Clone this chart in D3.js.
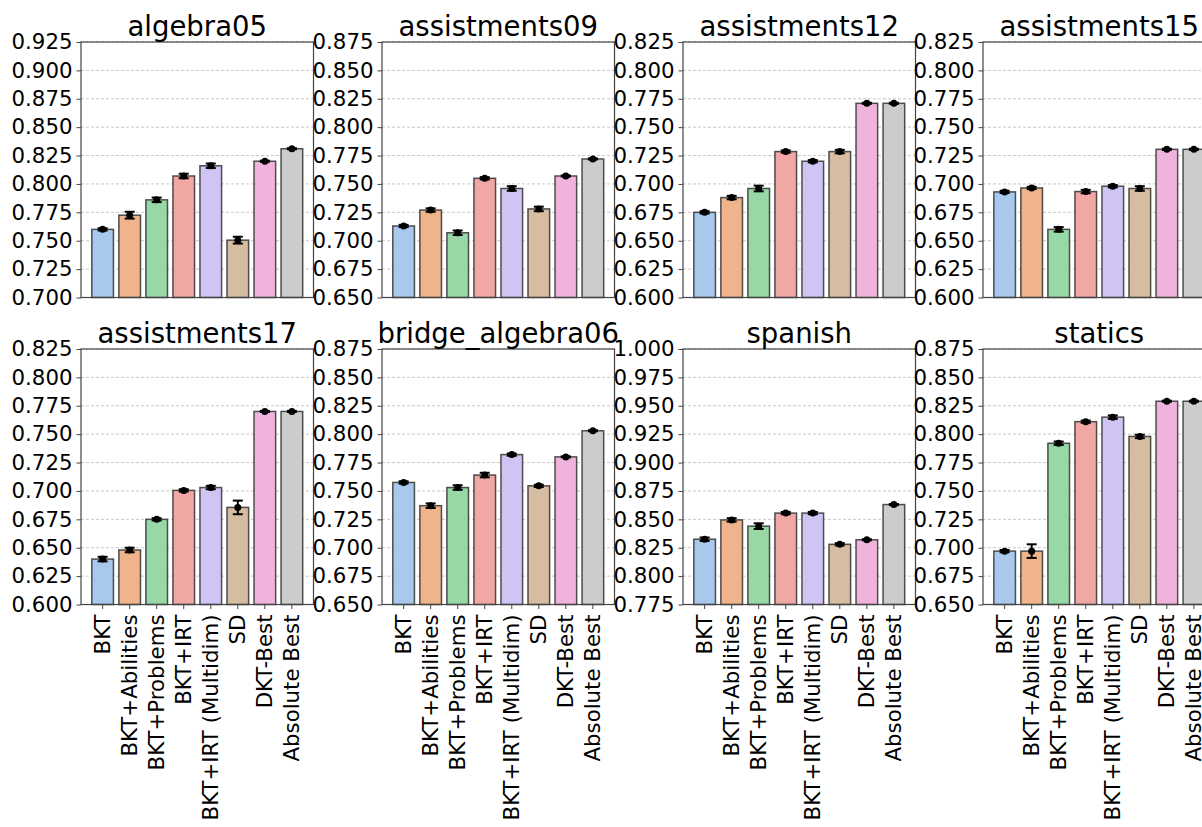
<!DOCTYPE html>
<html>
<head>
<meta charset="utf-8">
<script src="https://cdn.jsdelivr.net/npm/d3@7"></script>
<style>
  body { margin: 0; background: #fff; }
  svg { font-family: "DejaVu Sans", sans-serif; }
</style>
</head>
<body>
<svg id="chart" width="1202" height="827"></svg>
<script>
// models on the x axis of every panel
const models = ["BKT", "BKT+Abilities", "BKT+Problems", "BKT+IRT",
  "BKT+IRT (Multidim)", "SD", "DKT-Best", "Absolute Best"];

const datasets = ["algebra05", "assistments09", "assistments12", "assistments15",
  "assistments17", "bridge_algebra06", "spanish", "statics"];

// y range of each panel
const yMin = [0.700, 0.650, 0.600, 0.600, 0.600, 0.650, 0.775, 0.650];
const yMax = [0.925, 0.875, 0.825, 0.825, 0.825, 0.875, 1.000, 0.875];

// mean AUC per dataset (rows) and model (cols)
const auc = [
  [0.760, 0.7725, 0.786, 0.807, 0.816, 0.7505, 0.820, 0.831],
  [0.713, 0.727, 0.707, 0.755, 0.746, 0.728, 0.757, 0.772],
  [0.675, 0.688, 0.696, 0.7285, 0.720, 0.7285, 0.771, 0.771],
  [0.693, 0.6965, 0.660, 0.6933, 0.698, 0.696, 0.7305, 0.7305],
  [0.640, 0.648, 0.675, 0.7005, 0.703, 0.6855, 0.770, 0.770],
  [0.7575, 0.737, 0.753, 0.764, 0.782, 0.7545, 0.780, 0.803],
  [0.8325, 0.8495, 0.844, 0.8555, 0.8555, 0.828, 0.832, 0.863],
  [0.697, 0.697, 0.792, 0.811, 0.815, 0.798, 0.829, 0.829]
];
// error bar half lengths
const err = [
  [0.001, 0.003, 0.002, 0.002, 0.002, 0.003, 0.0005, 0.0005],
  [0.001, 0.0015, 0.002, 0.001, 0.002, 0.002, 0.0005, 0.0005],
  [0.001, 0.0015, 0.0025, 0.001, 0.001, 0.0015, 0.0005, 0.0005],
  [0.001, 0.001, 0.002, 0.0015, 0.001, 0.002, 0.0005, 0.0005],
  [0.002, 0.002, 0.001, 0.001, 0.0015, 0.006, 0.0005, 0.0005],
  [0.001, 0.002, 0.002, 0.002, 0.001, 0.001, 0.0005, 0.0005],
  [0.0015, 0.0015, 0.0025, 0.001, 0.001, 0.001, 0.0005, 0.0005],
  [0.001, 0.006, 0.0015, 0.001, 0.0015, 0.0015, 0.0005, 0.0005]
];

const colors = ["#a8c8ec", "#f0b48c", "#98d8a6", "#f1a8a4",
  "#d0c4f4", "#d6bca0", "#f0b4dc", "#cccccc"];

const svg = d3.select("#chart");
const panelW = 232.5, panelH = 255.5;
const lefts = [81, 382, 683, 983];
const tops = [42, 349];

datasets.forEach((name, k) => {
  const row = Math.floor(k / 4), col = k % 4;
  const g = svg.append("g")
    .attr("transform", "translate(" + lefts[col] + "," + tops[row] + ")");

  const x = d3.scaleBand().domain(models).range([0, panelW])
    .paddingInner(0.2).paddingOuter(0.4);
  const y = d3.scaleLinear().domain([yMin[k], yMax[k]]).range([panelH, 0]);
  const ticks = d3.range(10).map(i => +(yMin[k] + i * 0.025).toFixed(3));

  // grid
  g.selectAll(".grid").data(ticks).enter().append("line")
    .attr("x1", 0).attr("x2", panelW)
    .attr("y1", d => y(d)).attr("y2", d => y(d))
    .attr("stroke", "#c8c8c8").attr("stroke-width", 1)
    .attr("stroke-dasharray", "3,2");

  // bars
  g.selectAll(".bar").data(models).enter().append("rect")
    .attr("x", d => x(d))
    .attr("y", (d, i) => y(auc[k][i]))
    .attr("width", x.bandwidth())
    .attr("height", (d, i) => panelH - y(auc[k][i]))
    .attr("fill", (d, i) => colors[i])
    .attr("stroke", "#333").attr("stroke-opacity", 0.85)
    .attr("stroke-width", 1.5);

  // error bars
  const eb = g.selectAll(".err").data(models).enter().append("g")
    .attr("transform", d => "translate(" + (x(d) + x.bandwidth() / 2) + ",0)");
  eb.append("line")
    .attr("y1", (d, i) => y(auc[k][i] - err[k][i]))
    .attr("y2", (d, i) => y(auc[k][i] + err[k][i]))
    .attr("stroke", "#000").attr("stroke-width", 2);
  [-1, 1].forEach(s => {
    eb.append("line")
      .attr("x1", -5).attr("x2", 5)
      .attr("y1", (d, i) => y(auc[k][i] + s * err[k][i]))
      .attr("y2", (d, i) => y(auc[k][i] + s * err[k][i]))
      .attr("stroke", "#000").attr("stroke-width", 2);
  });
  eb.append("circle")
    .attr("cy", (d, i) => y(auc[k][i]))
    .attr("r", 3.5).attr("fill", "#000");

  // frame
  g.append("rect").attr("width", panelW).attr("height", panelH)
    .attr("fill", "none").attr("stroke", "#444").attr("stroke-width", 1.2);

  // y axis
  const ya = g.append("g")
    .call(d3.axisLeft(y).tickValues(ticks).tickFormat(d3.format(".3f"))
      .tickSize(4.5).tickPadding(4));
  ya.select(".domain").remove();
  ya.selectAll("line").attr("stroke", "#444");
  ya.selectAll("text").attr("font-size", "21.3px").attr("fill", "#000")
    .attr("font-family", "DejaVu Sans");

  // x axis only on bottom row
  if (row === 1) {
    const xa = g.append("g").attr("transform", "translate(0," + panelH + ")")
      .call(d3.axisBottom(x).tickSize(4.5).tickPadding(0));
    xa.select(".domain").remove();
    xa.selectAll("line").attr("stroke", "#444");
    xa.selectAll("text")
      .attr("font-size", "21.3px").attr("fill", "#000")
      .attr("font-family", "DejaVu Sans")
      .attr("text-anchor", "end")
      .attr("dy", null)
      .attr("dominant-baseline", "central")
      .attr("transform", "translate(0,10) rotate(-90)")
      .attr("x", 0).attr("y", 0);
  }

  // title
  g.append("text")
    .attr("x", panelW / 2).attr("y", -6)
    .attr("text-anchor", "middle")
    .attr("font-size", "27.5px")
    .text(name);
});
</script>
</body>
</html>
